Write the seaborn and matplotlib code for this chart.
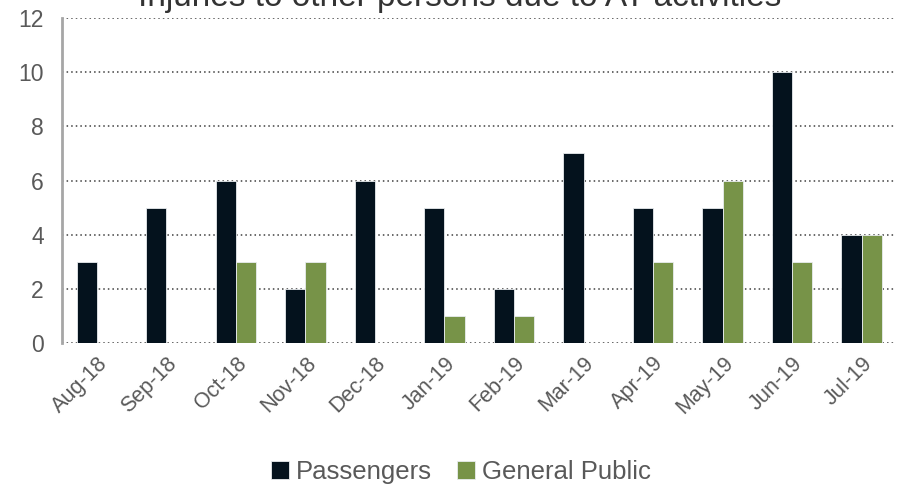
import matplotlib
matplotlib.use("Agg")
import matplotlib.pyplot as plt
import seaborn as sns
import pandas as pd
import numpy as np

months = ["Aug-18", "Sep-18", "Oct-18", "Nov-18", "Dec-18", "Jan-19",
          "Feb-19", "Mar-19", "Apr-19", "May-19", "Jun-19", "Jul-19"]
passengers = [3, 5, 6, 2, 6, 5, 2, 7, 5, 5, 10, 4]
general_public = [0, 0, 3, 3, 0, 1, 1, 0, 3, 6, 3, 4]
series_names = ["Passengers", "General Public"]
colors = ["#001221", "#7A9F3C"]
title = "Injuries to other persons due to AT activities"

df = pd.DataFrame({
    "Month": months * 2,
    "Value": passengers + general_public,
    "Series": [series_names[0]] * len(months) + [series_names[1]] * len(months),
})

sns.set_theme(style="white")
plt.rcParams["font.family"] = ["Liberation Sans", "DejaVu Sans"]

fig = plt.figure(figsize=(9.03, 4.86), dpi=100)
ax = fig.add_axes([0.0687, 0.294, 0.924, 0.669])

sns.barplot(data=df, x="Month", y="Value", hue="Series", order=months,
            hue_order=series_names, palette=colors, width=0.58,
            edgecolor="#E8ECEF", linewidth=0.6, ax=ax, legend=True)

ax.set_ylim(0, 12)
ax.set_xlim(-0.5, len(months) - 0.5)
ax.set_yticks(range(0, 13, 2))
ax.yaxis.grid(True, linestyle=(0, (1, 2)), color="#404040", linewidth=1.1)
ax.set_axisbelow(True)
for s in ["top", "right", "bottom"]:
    ax.spines[s].set_visible(False)
ax.spines["left"].set_color("#A6A6A6")
ax.spines["left"].set_linewidth(2)
ax.set_xlabel("")
ax.set_ylabel("")

ax.tick_params(axis="y", length=0, labelsize=16.5, labelcolor="#595959", pad=13)
ax.tick_params(axis="x", which="major", length=0, labelsize=15.5, labelcolor="#595959", pad=7)
ax.set_xticks(np.arange(-0.5, len(months), 1.0), minor=True)
ax.tick_params(axis="x", which="minor", length=4, width=1.2, color="#7F7F7F", direction="out")
for lbl in ax.get_xticklabels():
    lbl.set_rotation(45)
    lbl.set_ha("right")
    lbl.set_rotation_mode("anchor")

fig.text(0.509, 1 - 6 / 486, title, fontsize=24, color="#333333",
         ha="center", va="baseline")

leg = ax.legend(loc="center", bbox_to_anchor=(0.478, -0.397), ncol=2,
                frameon=False, fontsize=18.5, handlelength=0.7, handleheight=0.7,
                handletextpad=0.25, columnspacing=1.0, labelcolor="#595959")

fig.savefig("out.png", dpi=100)
